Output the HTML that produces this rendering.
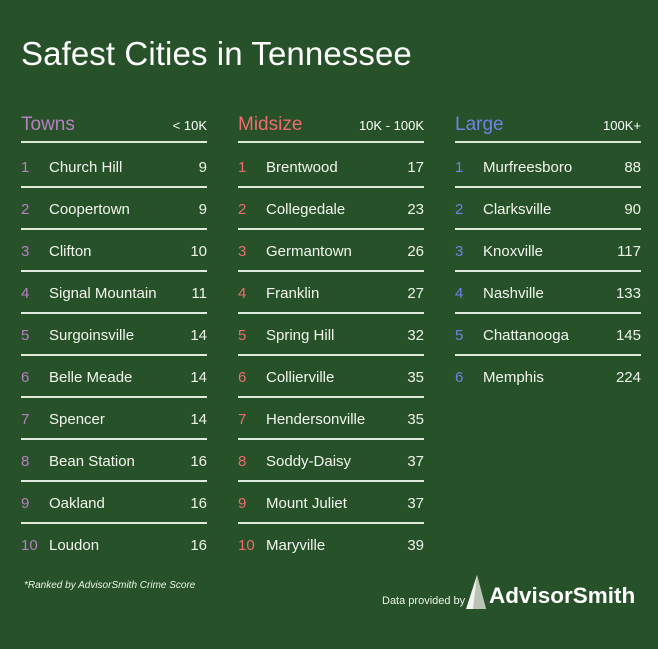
<!DOCTYPE html>
<html><head><meta charset="utf-8"><style>
body{margin:0;width:658px;height:649px;background:#265129;font-family:"Liberation Sans",sans-serif;color:#eef3ea;position:relative;overflow:hidden}
.a{position:absolute;white-space:nowrap}
.title{left:21px;top:35px;font-size:33px;color:#fff;letter-spacing:0.1px}
.hd{font-size:19px}
.sub{font-size:13px;color:#fff}
.ln{position:absolute;height:1.5px;background:#dfeadb;width:186px}
.n{font-size:15px}
.c{font-size:15px;color:#f3f5ef}
.v{font-size:15px;text-align:right;width:40px}
</style></head><body>
<div class="a title">Safest Cities in Tennessee</div>
<div class="a" style="left:24px;top:580px;font-size:10px;font-style:italic">*Ranked by AdvisorSmith Crime Score</div>
<div class="a" style="left:382px;top:595px;font-size:11px">Data provided by</div>
<svg class="a" style="left:466px;top:575px" width="20" height="34"><polygon points="11,0 0,34 20,34" fill="#f2f2f2"/><polygon points="11,0 7,34 20,34" fill="#b9c4b4"/></svg>
<div class="a" style="left:489px;top:583px;font-size:22.5px;font-weight:bold;color:#fff">AdvisorSmith</div>
<script>
const groups=["Towns","Midsize","Large"];
const ranges=["< 10K","10K - 100K","100K+"];
const colors=["#b97fc4","#ee6b6e","#6e83e8"];
const townNames=["Church Hill","Coopertown","Clifton","Signal Mountain","Surgoinsville","Belle Meade","Spencer","Bean Station","Oakland","Loudon"];
const townScores=[9,9,10,11,14,14,14,16,16,16];
const midNames=["Brentwood","Collegedale","Germantown","Franklin","Spring Hill","Collierville","Hendersonville","Soddy-Daisy","Mount Juliet","Maryville"];
const midScores=[17,23,26,27,32,35,35,37,37,39];
const largeNames=["Murfreesboro","Clarksville","Knoxville","Nashville","Chattanooga","Memphis"];
const largeScores=[88,90,117,133,145,224];
const names=[townNames,midNames,largeNames],scores=[townScores,midScores,largeScores];
const root=document.body;
function mk(cls,txt,l,t,name){const d=document.createElement('div');d.className='a '+cls;d.textContent=txt;d.style.left=l+'px';d.style.top=t+'px';


root.appendChild(d);return d;}
groups.forEach((g,gi)=>{
 const x=21+gi*217;
 const h=mk('hd',g,x,114,'column-header-'+g.toLowerCase());h.style.color=colors[gi];
 const s=mk('sub',ranges[gi],x,118,'population-range-'+g.toLowerCase());s.style.left='';s.style.right=(658-x-186)+'px';
 const l=document.createElement('div');l.className='ln';l.style.left=x+'px';l.style.top='141px';
 
 
 root.appendChild(l);
 names[gi].forEach((nm,i)=>{
  const y=159+i*42;
  const n=mk('n',String(i+1),x,y,'rank-number');n.style.color=colors[gi];
  mk('c',nm,x+28,y,'city-name');
  const v=mk('v',String(scores[gi][i]),x+146,y,'crime-score');
  if(i<names[gi].length-1){const r=document.createElement('div');r.className='ln';r.style.left=x+'px';r.style.top=(186+i*42)+'px';
   
   
   root.appendChild(r);}
 });
});
</script>
</body></html>
